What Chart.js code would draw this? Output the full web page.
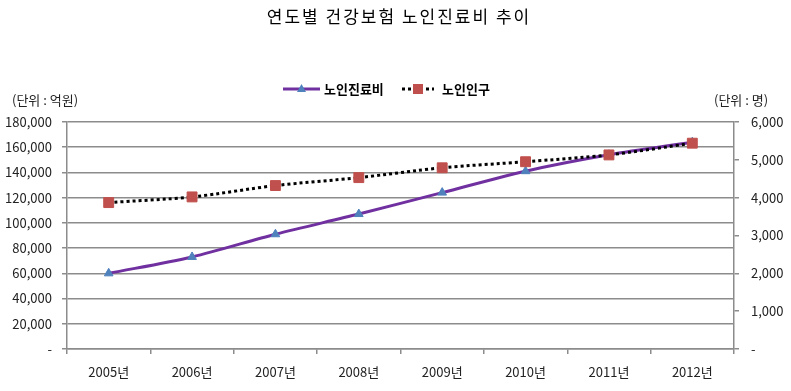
<!DOCTYPE html>
<html>
<head>
<meta charset="utf-8">
<script src="https://cdn.jsdelivr.net/npm/chart.js@4"></script>
<style>
  html, body { margin: 0; padding: 0; background: #fff; }
  #wrap { width: 791px; height: 391px; }
</style>
</head>
<body>
<div id="wrap"><canvas id="chart"></canvas></div>
<script>
        // Chart Data
        const years = ['2005년', '2006년', '2007년', '2008년', '2009년', '2010년', '2011년', '2012년'];
        const medicalCost = [60000, 73000, 91000, 107000, 124000, 141000, 154000, 164000];   // 억원
        const elderlyPop = [3870, 4020, 4320, 4530, 4790, 4950, 5130, 5440];                 // 명
        const chartTitle = '연도별 건강보험 노인진료비 추이';
        const seriesNames = ['노인진료비', '노인인구'];
        const unitLeft = '(단위 : 억원)';
        const unitRight = '(단위 : 명)';

        const FONT = '"Noto Sans CJK KR", "Malgun Gothic", sans-serif';
        const PURPLE = '#7030A0';
        const BLUE = '#4F81BD';
        const RED = '#C0504D';
        const GRID = '#8c8c8c';

        const fmt = v => v === 0 ? '-' : v.toLocaleString('en-US');

        // title, legend and unit captions
        const decorations = {
            id: 'decorations',
            afterDraw(chart) {
                const ctx = chart.ctx;
                ctx.save();
                ctx.fillStyle = '#000';
                ctx.textBaseline = 'middle';
                ctx.textAlign = 'center';
                ctx.font = '17px ' + FONT;
                ctx.letterSpacing = '2px';
                ctx.fillText(chartTitle, 399, 17);
                ctx.letterSpacing = '0px';

                // legend 1
                const ly = 89;
                ctx.strokeStyle = PURPLE;
                ctx.lineWidth = 3;
                ctx.beginPath();
                ctx.moveTo(283, ly);
                ctx.lineTo(320, ly);
                ctx.stroke();
                ctx.fillStyle = BLUE;
                ctx.beginPath();
                ctx.moveTo(301.5, ly - 5);
                ctx.lineTo(306, ly + 3);
                ctx.lineTo(297, ly + 3);
                ctx.closePath();
                ctx.fill();
                ctx.fillStyle = '#000';
                ctx.textAlign = 'left';
                ctx.font = 'bold 13px ' + FONT;
                ctx.fillText(seriesNames[0], 324, ly);

                // legend 2
                ctx.strokeStyle = '#000';
                ctx.setLineDash([3, 3]);
                ctx.beginPath();
                ctx.moveTo(402, ly);
                ctx.lineTo(434, ly);
                ctx.stroke();
                ctx.setLineDash([]);
                ctx.fillStyle = RED;
                ctx.fillRect(413, ly - 5, 10, 10);
                ctx.fillStyle = '#000';
                ctx.fillText(seriesNames[1], 442, ly);

                // units
                ctx.font = '13px ' + FONT;
                ctx.fillStyle = '#222';
                ctx.fillText(unitLeft, 12, 100);
                ctx.fillText(unitRight, 714, 100);
                ctx.restore();
            }
        };

        const ctx = document.getElementById('chart').getContext('2d');
        new Chart(ctx, {
            type: 'line',
            data: {
                labels: years,
                datasets: [{
                    label: seriesNames[0],
                    data: medicalCost,
                    yAxisID: 'y',
                    borderColor: PURPLE,
                    borderWidth: 3,
                    tension: 0.3,
                    pointStyle: 'triangle',
                    pointRadius: 5,
                    pointBackgroundColor: BLUE,
                    pointBorderColor: BLUE,
                    pointBorderWidth: 1,
                    order: 1
                }, {
                    label: seriesNames[1],
                    data: elderlyPop,
                    yAxisID: 'y1',
                    borderColor: '#000',
                    borderWidth: 3,
                    borderDash: [3, 3],
                    tension: 0.3,
                    pointStyle: 'rect',
                    pointRadius: 7,
                    pointBackgroundColor: RED,
                    pointBorderColor: RED,
                    pointBorderWidth: 1,
                    order: 0
                }]
            },
            options: {
                responsive: true,
                maintainAspectRatio: false,
                animation: false,
                layout: { padding: { top: 122, left: 0, right: 0, bottom: 0 } },
                plugins: {
                    legend: { display: false },
                    title: { display: false },
                    tooltip: { enabled: false }
                },
                scales: {
                    x: {
                        offset: true,
                        grid: { offset: true, drawOnChartArea: false, tickLength: 5, color: GRID, lineWidth: 1.5 },
                        border: { color: GRID, width: 1.5 },
                        ticks: { color: '#222', font: { family: FONT, size: 13 }, padding: 10 },
                        afterFit: s => { s.height = 42; }
                    },
                    y: {
                        position: 'left',
                        min: 0,
                        max: 180000,
                        grid: { color: GRID, lineWidth: 1.5, tickLength: 5 },
                        border: { color: GRID, width: 1.5 },
                        ticks: {
                            stepSize: 20000,
                            color: '#222',
                            font: { family: FONT, size: 13 },
                            padding: 10,
                            callback: fmt
                        },
                        afterFit: s => { s.width = 67; }
                    },
                    y1: {
                        position: 'right',
                        min: 0,
                        max: 6000,
                        grid: { drawOnChartArea: false, color: GRID, lineWidth: 1.5, tickLength: 5 },
                        border: { color: GRID, width: 1.5 },
                        ticks: {
                            stepSize: 1000,
                            color: '#222',
                            font: { family: FONT, size: 13 },
                            padding: 12,
                            callback: fmt
                        },
                        afterFit: s => { s.width = 57; }
                    }
                }
            },
            plugins: [decorations]
        });
</script>
</body>
</html>
